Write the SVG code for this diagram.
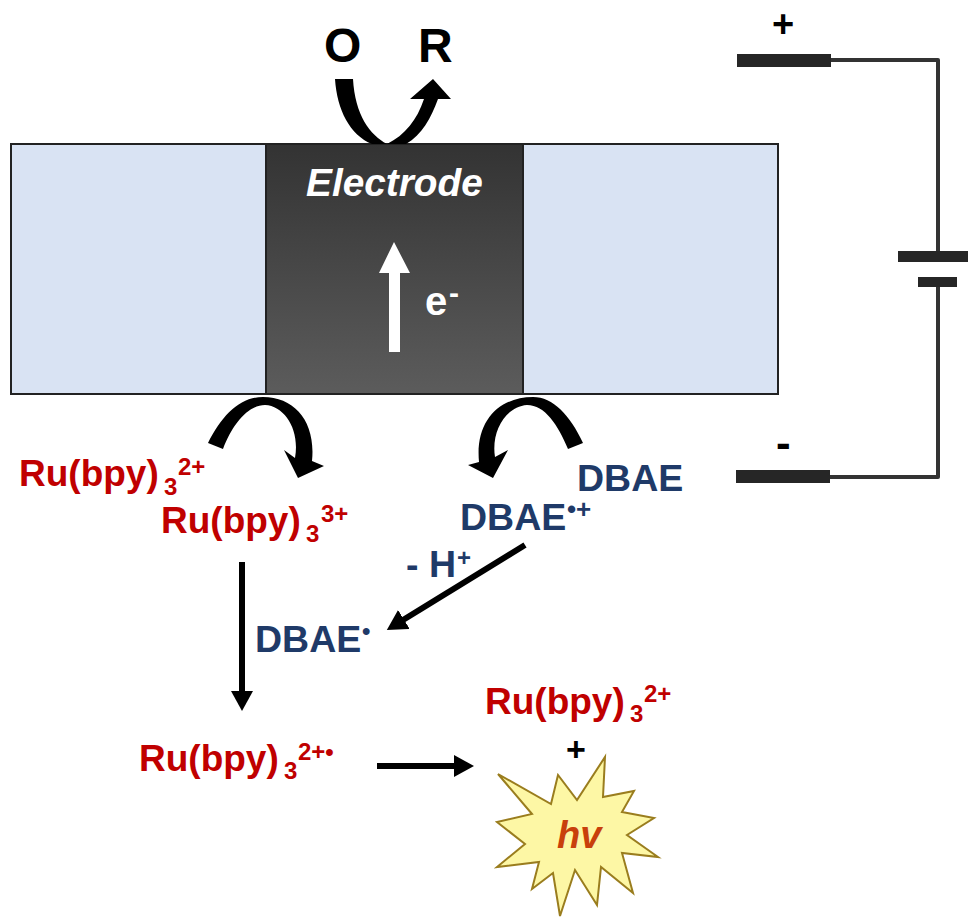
<svg xmlns="http://www.w3.org/2000/svg" width="968" height="917" viewBox="0 0 968 917">
<defs>
<linearGradient id="elec" x1="0" y1="0" x2="0" y2="1"><stop offset="0" stop-color="#333"/><stop offset="1" stop-color="#5c5c5c"/></linearGradient>
<marker id="head" markerUnits="userSpaceOnUse" markerWidth="22" markerHeight="22" refX="1" refY="11" orient="auto"><path d="M0,0L20,11L0,22Z" fill="#000"/></marker>
</defs>
<style>
text{font-family:"Liberation Sans",Arial,sans-serif;font-weight:bold}
.ru{fill:#c00000;font-size:37px}
.db{fill:#1f3a68;font-size:37.5px}
.k{fill:#000}
.s{font-size:24px}
.panel{fill:#d9e3f3;stroke:#222;stroke-width:2}
.bar{fill:#262626}
.wire{fill:none;stroke:#333;stroke-width:4;stroke-linejoin:round}
.ln{stroke:#000;stroke-width:6;fill:none;marker-end:url(#head)}
</style>
<rect width="968" height="917" fill="#fff"/>
<g id="electrode-assembly">
<rect class="panel" x="11" y="144" width="255" height="250"/>
<rect class="panel" x="523" y="144" width="255" height="250"/>
<rect x="266" y="144" width="257" height="250" fill="url(#elec)" stroke="#222" stroke-width="2"/>
<text x="306" y="196" font-size="38.8" font-style="italic" fill="#fff">Electrode</text>
<path d="M389,352V273H379L394,242L410,273H400V352Z" fill="#fff"/>
<text x="425" y="315" font-size="40" fill="#fff">e</text>
<text x="449" y="303" font-size="30" fill="#fff">-</text>
</g>
<g id="battery">
<path class="wire" d="M830,60H938V252M938,287V477H830"/>
<rect class="bar" x="737" y="54" width="94" height="13"/>
<rect class="bar" x="736" y="470" width="94" height="13"/>
<rect class="bar" x="898" y="251" width="70" height="11"/>
<rect class="bar" x="918" y="277" width="39" height="10"/>
<text class="k" x="772" y="37" font-size="38">+</text>
<text class="k" x="776" y="458" font-size="44">-</text>
</g>
<g id="connectors">
<path d="M335,79C337,110 350,135 372,144L406,144C422,135 431,118 438,99L451,99L433,79L410,99L424,99C417,120 405,135 387,144C370,135 355,115 353,79Z" fill="#000"/>
<path d="M208,443C222,415 240,397 263,397C295,397 316,422 312,461L324,466L298,478L284,450L295,458C300,430 285,406 265,405C248,405 232,425 223,449Z" fill="#000"/>
<path d="M583,443C570,415 553,397 533,397C500,397 475,420 479,462L468,465L493,478L508,450L495,457C491,432 505,407 527,405C545,405 558,425 568,449Z" fill="#000"/>
<line class="ln" x1="242" y1="562" x2="242" y2="692"/>
<line class="ln" x1="525" y1="545" x2="403" y2="620"/>
<line class="ln" x1="377" y1="766" x2="455" y2="766"/>
</g>
<g id="O"><text class="k" x="324" y="62" font-size="48">O</text></g>
<g id="R"><text class="k" x="418" y="62" font-size="48">R</text></g>
<g id="ru2"><text class="ru" x="19" y="486">Ru(bpy)</text><text class="ru s" x="164" y="495">3</text><text class="ru s" x="178" y="475">2+</text></g>
<g id="ru3"><text class="ru" x="161" y="533">Ru(bpy)</text><text class="ru s" x="306" y="542">3</text><text class="ru s" x="321" y="522">3+</text></g>
<g id="dbae"><text class="db" x="577" y="491">DBAE</text></g>
<g id="dbae-cation"><text class="db" x="460" y="530">DBAE</text><text class="db" style="font-size:26px" x="567" y="518">•+</text></g>
<g id="minus-h"><text class="db" x="406" y="577">- H</text><text class="db s" x="457" y="566">+</text></g>
<g id="dbae-radical"><text class="db" x="255" y="652">DBAE</text><text class="db s" x="362" y="639">•</text></g>
<g id="ru-radical"><text class="ru" x="139" y="771">Ru(bpy)</text><text class="ru s" x="284" y="779">3</text><text class="ru s" x="298" y="760">2+•</text></g>
<g id="ru2-product"><text class="ru" x="485" y="714">Ru(bpy)</text><text class="ru s" x="630" y="722">3</text><text class="ru s" x="644" y="702">2+</text><text class="k" x="566" y="761" font-size="34">+</text></g>
<g id="hv">
<polygon points="498,774 551,804 558,775 577,800 605,757 603,797 634,791 622,812 654,818 627,835 658,857 622,853 633,893 601,867 597,905 575,870 560,916 553,873 532,889 539,862 497,867 525,844 497,822 532,814" fill="#fdf7a5" stroke="#9a7d1e" stroke-width="2"/>
<text x="557" y="848" font-size="38" font-style="italic" fill="#c8400c">hv</text>
</g>
</svg>
